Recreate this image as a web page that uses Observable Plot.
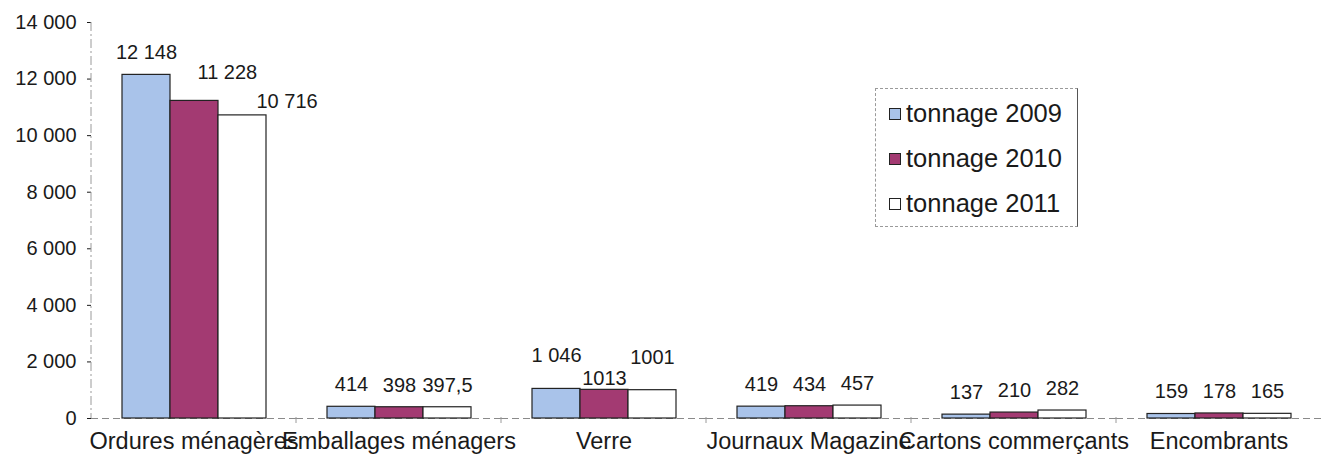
<!DOCTYPE html>
<html>
<head>
<meta charset="utf-8">
<script src="https://cdn.jsdelivr.net/npm/d3@7"></script>
<script src="https://cdn.jsdelivr.net/npm/@observablehq/plot@0.6"></script>
<style>
  html, body { margin: 0; padding: 0; background: #fff; }
  #wrap { position: relative; width: 1323px; height: 461px; font-family: "Liberation Sans", Arial, sans-serif; color: #1a1a1a; }
  #legend { position: absolute; left: 875px; top: 88px; width: 203px; height: 139px; box-sizing: border-box;
            border: 1px dashed #9a9a9a; border-right: 1.5px solid #555; padding: 2px 0 0 13px; }
  .item { display: flex; align-items: center; height: 45px; font-size: 25.5px; }
  .sw { width: 10px; height: 10px; border: 1.2px solid #222; margin-right: 5px; flex: none; }
</style>
</head>
<body>
<div id="wrap"><div id="legend"></div></div>
<script>
const categories = ["Ordures ménagères", "Emballages ménagers", "Verre", "Journaux Magazine", "Cartons commerçants", "Encombrants"];
const series = ["tonnage 2009", "tonnage 2010", "tonnage 2011"];
const values2009 = [12148, 414, 1046, 419, 137, 159];
const values2010 = [11228, 398, 1013, 434, 210, 178];
const values2011 = [10716, 397.5, 1001, 457, 282, 165];
const labels2009 = ["12 148", "414", "1 046", "419", "137", "159"];
const labels2010 = ["11 228", "398", "1013", "434", "210", "178"];
const labels2011 = ["10 716", "397,5", "1001", "457", "282", "165"];
const yTicks = [0, 2000, 4000, 6000, 8000, 10000, 12000, 14000];
const colors = ["#a9c3ea", "#a33a72", "#ffffff"];

const seriesValues = [values2009, values2010, values2011];
const seriesLabels = [labels2009, labels2010, labels2011];
const rows = series.flatMap((s, si) => categories.map((c, ci) => ({
  category: c, series: s, si, ci, value: seriesValues[si][ci], label: seriesLabels[si][ci]
})));

// place value labels; only where neighbouring labels of a category would collide are they rearranged
const labelSize = 20;
const estWidth = t => t.replace(/[ ,]/g, "").length * 0.556 * labelSize + (t.match(/[ ,]/g) || []).length * 0.278 * labelSize;
const layout = categories.map((c, ci) => {
  const w = seriesLabels.map(l => estWidth(l[ci]));
  const crowded = (w[0] + w[1]) / 2 > 47 || (w[1] + w[2]) / 2 > 47;
  if (!crowded) return "plain";
  const v = seriesValues.map(a => a[ci]);
  return (d3.max(v) - d3.min(v)) / d3.max(v) < 0.1 ? "stagger" : "shift";
});
rows.forEach(r => {
  const mode = layout[r.ci];
  r.dy = -22; r.dx = 0; r.anchor = "middle";
  if (mode === "stagger") r.dy = r.si === 1 ? -11 : -33;
  if (mode === "shift" && r.si > 0) { r.anchor = "start"; r.dx = r.si === 1 ? 3 : 14; r.dy = r.si === 1 ? -28 : -14; }
  r.key = `${r.dy}|${r.dx}|${r.anchor}`;
});
const labelGroups = d3.groups(rows, r => r.key);

const fmt = d => d3.format(",")(d).replace(/,/g, " ");

const plot = Plot.plot({
  width: 1323,
  height: 461,
  marginLeft: 89,
  marginRight: 0,
  marginTop: 22,
  marginBottom: 43,
  style: { fontFamily: "'Liberation Sans', Arial, sans-serif", color: "#1a1a1a", background: "white", overflow: "visible" },
  fx: { domain: categories, padding: 0, label: null },
  x: { domain: series, paddingInner: 0, paddingOuter: 0.62, axis: null },
  y: { domain: [0, 14000], label: null },
  color: { domain: series, range: colors },
  marks: [
    Plot.axisFx({ anchor: "bottom", fontSize: 23.5, tickSize: 0, tickPadding: 14, label: null }),
    Plot.axisY({ ticks: yTicks, tickFormat: () => "", tickSize: 4, tickPadding: 11, label: null }),
    // y tick labels, in the first facet only, positioned by the y scale
    Plot.text(yTicks, { fx: () => categories[0], y: d => d, text: fmt, frameAnchor: "left", textAnchor: "end", dx: -15, fontSize: 20, fill: "#1a1a1a" }),
    Plot.ruleY([0], { stroke: "#8a8a8a", strokeDasharray: "7,4" }),
    Plot.barY(rows, { fx: "category", x: "series", y: "value", fill: "series", stroke: "#222", strokeWidth: 1.2 }),
    ...labelGroups.map(([k, g]) => Plot.text(g, {
      fx: "category", x: "series", y: "value", text: "label",
      dy: g[0].dy, dx: g[0].dx, textAnchor: g[0].anchor, fontSize: labelSize, fill: "#1a1a1a"
    }))
  ]
});

document.getElementById("wrap").prepend(plot);

const svg = d3.select(plot.tagName.toLowerCase() === "svg" ? plot : plot.querySelector("svg"));
svg.selectAll("line").filter(function () { return this.closest("g") && !this.getAttribute("stroke"); });

// y-axis line and category separators, positioned through the plot's own scales
const ys = plot.scale("y"), fxs = plot.scale("fx");
const y0 = ys.apply(0), y1 = ys.apply(14000);
const xAxis = fxs.apply(categories[0]);
svg.append("line").attr("x1", xAxis).attr("x2", xAxis).attr("y1", y1).attr("y2", y0)
  .attr("stroke", "#9a9a9a").attr("stroke-dasharray", "9,3,2,3");
categories.slice(1).forEach(c => {
  const xb = fxs.apply(c);
  svg.append("line").attr("x1", xb).attr("x2", xb).attr("y1", y0 - 1).attr("y2", y0 + 5).attr("stroke", "#9a9a9a");
});

// legend
const legend = d3.select("#legend");
series.forEach((s, i) => {
  const it = legend.append("div").attr("class", "item");
  it.append("div").attr("class", "sw").style("background", colors[i]);
  it.append("span").text(s);
});
</script>
</body>
</html>
